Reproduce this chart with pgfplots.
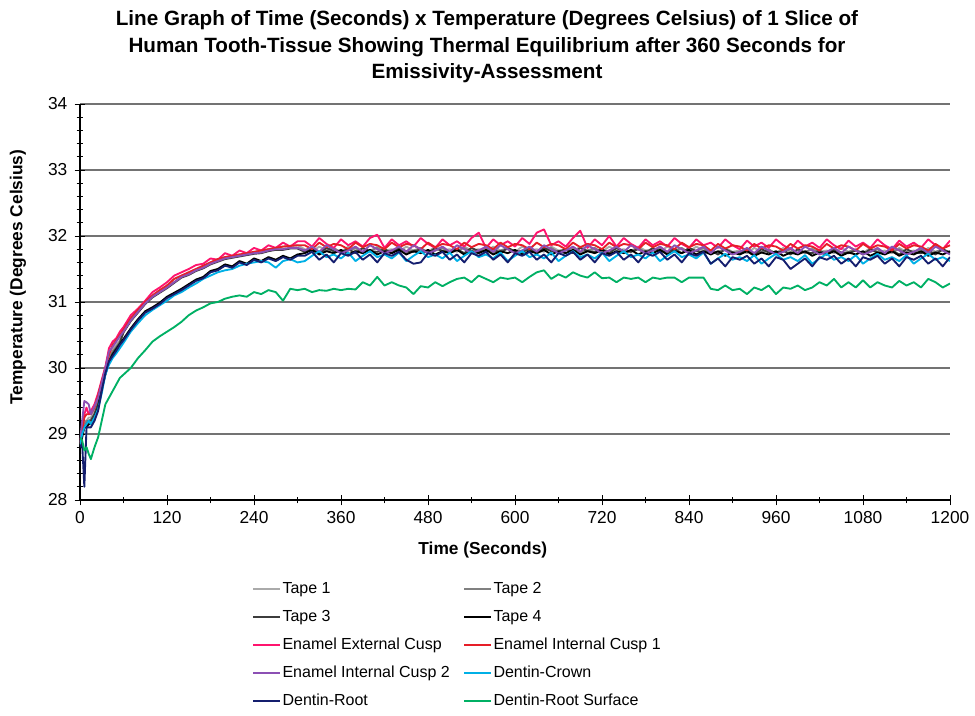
\documentclass[border=0pt]{standalone}
\usepackage{pgfplots}
\usepackage{pgfplotstable}
\pgfplotsset{compat=1.18}
\usepackage{fontspec}
\setmainfont{Liberation Sans}

\definecolor{tapeA}{RGB}{170,170,170}
\definecolor{tapeB}{RGB}{128,128,128}
\definecolor{tapeC}{RGB}{60,60,60}
\definecolor{tapeD}{RGB}{0,0,0}
\definecolor{eec}{RGB}{255,20,110}
\definecolor{eicA}{RGB}{230,30,40}
\definecolor{eicB}{RGB}{140,80,180}
\definecolor{dcrown}{RGB}{0,176,230}
\definecolor{droot}{RGB}{20,30,110}
\definecolor{drs}{RGB}{0,176,100}

\pgfplotstableread{
t T1 T2 T3 T4 EEC EIC1 EIC2 DC DR DRS
0 28.85 28.82 28.83 28.81 28.86 28.85 28.88 28.84 28.80 28.95
3 29.05 29.00 29.00 28.95 29.10 29.05 29.20 29.00 28.85 28.90
6 29.20 29.15 29.10 29.10 29.30 29.25 29.50 29.10 28.20 28.75
9 29.20 29.20 29.15 29.10 29.40 29.30 29.48 29.15 29.10 28.80
12 29.25 29.20 29.20 29.15 29.30 29.30 29.45 29.20 29.10 28.70
15 29.25 29.22 29.20 29.15 29.35 29.30 29.30 29.15 29.10 28.62
20 29.35 29.30 29.30 29.25 29.45 29.40 29.42 29.25 29.20 28.80
25 29.50 29.48 29.45 29.40 29.62 29.58 29.55 29.38 29.35 28.95
30 29.72 29.70 29.70 29.68 29.82 29.80 29.78 29.62 29.65 29.20
35 29.95 29.95 29.92 29.90 30.02 30.00 30.00 29.90 29.92 29.45
40 30.15 30.12 30.10 30.10 30.30 30.20 30.25 30.05 30.10 29.55
45 30.28 30.25 30.22 30.20 30.40 30.35 30.32 30.15 30.18 29.65
50 30.35 30.32 30.30 30.28 30.45 30.42 30.40 30.22 30.26 29.75
55 30.42 30.40 30.38 30.36 30.55 30.50 30.48 30.30 30.35 29.85
60 30.58 30.55 30.54 30.44 30.62 30.58 30.55 30.38 30.42 29.90
70 30.75 30.72 30.71 30.60 30.80 30.75 30.72 30.55 30.58 30.00
80 30.88 30.85 30.84 30.74 30.90 30.88 30.85 30.68 30.72 30.15
90 31.00 30.98 30.97 30.86 31.02 31.00 30.98 30.80 30.84 30.27
100 31.10 31.08 31.07 30.92 31.15 31.10 31.08 30.88 30.90 30.40
110 31.18 31.15 31.14 30.99 31.22 31.18 31.15 30.95 30.97 30.48
120 31.25 31.22 31.21 31.08 31.30 31.25 31.22 31.02 31.06 30.55
130 31.35 31.30 31.29 31.14 31.40 31.35 31.30 31.10 31.12 30.62
140 31.40 31.38 31.37 31.20 31.45 31.40 31.38 31.15 31.18 30.70
150 31.45 31.42 31.41 31.27 31.50 31.45 31.42 31.22 31.25 30.80
160 31.50 31.48 31.47 31.34 31.56 31.50 31.48 31.28 31.32 30.87
170 31.55 31.52 31.51 31.38 31.58 31.55 31.52 31.35 31.36 30.92
180 31.60 31.58 31.57 31.47 31.66 31.60 31.58 31.40 31.45 30.98
190 31.65 31.62 31.61 31.50 31.64 31.65 31.62 31.45 31.48 31.00
200 31.68 31.66 31.65 31.57 31.74 31.68 31.66 31.48 31.55 31.05
210 31.70 31.68 31.67 31.54 31.70 31.70 31.68 31.50 31.52 31.08
220 31.72 31.70 31.69 31.62 31.78 31.72 31.70 31.55 31.60 31.10
230 31.74 31.72 31.71 31.58 31.74 31.74 31.72 31.58 31.56 31.08
240 31.76 31.74 31.73 31.66 31.82 31.76 31.74 31.60 31.64 31.15
250 31.78 31.75 31.74 31.62 31.78 31.78 31.75 31.62 31.60 31.12
260 31.80 31.78 31.77 31.68 31.86 31.80 31.78 31.60 31.66 31.18
270 31.82 31.80 31.79 31.64 31.82 31.82 31.80 31.52 31.62 31.15
280 31.84 31.80 31.79 31.70 31.90 31.84 31.80 31.62 31.68 31.02
290 31.85 31.82 31.81 31.66 31.84 31.85 31.82 31.65 31.64 31.20
300 31.86 31.82 31.81 31.72 31.92 31.86 31.82 31.60 31.70 31.18
310 31.80 31.78 31.76 31.74 31.92 31.86 31.78 31.62 31.70 31.20
320 31.76 31.82 31.80 31.79 31.84 31.80 31.84 31.70 31.76 31.15
330 31.84 31.75 31.74 31.72 31.97 31.90 31.76 31.77 31.64 31.18
340 31.78 31.78 31.82 31.77 31.88 31.83 31.86 31.68 31.72 31.17
350 31.80 31.82 31.77 31.74 31.82 31.88 31.80 31.72 31.60 31.20
360 31.76 31.75 31.76 31.79 31.95 31.86 31.74 31.66 31.74 31.18
370 31.84 31.78 31.80 31.72 31.86 31.80 31.78 31.75 31.70 31.20
380 31.78 31.82 31.74 31.77 31.92 31.90 31.84 31.62 31.76 31.19
390 31.80 31.75 31.82 31.74 31.84 31.83 31.76 31.70 31.64 31.30
400 31.76 31.78 31.77 31.79 31.97 31.88 31.86 31.77 31.72 31.25
410 31.84 31.82 31.76 31.72 32.02 31.86 31.80 31.68 31.60 31.38
420 31.78 31.75 31.80 31.77 31.82 31.80 31.74 31.72 31.74 31.25
430 31.80 31.78 31.74 31.74 31.95 31.90 31.78 31.66 31.70 31.30
440 31.76 31.82 31.82 31.79 31.86 31.83 31.84 31.75 31.76 31.25
450 31.84 31.75 31.77 31.72 31.92 31.88 31.76 31.62 31.64 31.22
460 31.78 31.78 31.76 31.77 31.84 31.86 31.86 31.70 31.58 31.12
470 31.80 31.82 31.80 31.74 31.97 31.80 31.80 31.77 31.60 31.24
480 31.76 31.75 31.74 31.79 31.88 31.90 31.74 31.68 31.74 31.22
490 31.84 31.78 31.82 31.72 31.82 31.83 31.78 31.72 31.70 31.30
500 31.78 31.82 31.77 31.77 31.95 31.88 31.84 31.66 31.76 31.24
510 31.80 31.75 31.76 31.74 31.86 31.86 31.76 31.75 31.64 31.30
520 31.76 31.78 31.80 31.79 31.92 31.80 31.86 31.62 31.72 31.35
530 31.84 31.82 31.74 31.72 31.84 31.90 31.80 31.70 31.60 31.37
540 31.78 31.75 31.82 31.77 31.97 31.83 31.74 31.77 31.74 31.30
550 31.80 31.78 31.77 31.74 32.05 31.88 31.78 31.68 31.70 31.40
560 31.76 31.82 31.76 31.79 31.82 31.86 31.84 31.72 31.76 31.35
570 31.84 31.75 31.80 31.72 31.95 31.80 31.76 31.66 31.64 31.30
580 31.78 31.78 31.74 31.77 31.86 31.90 31.86 31.75 31.72 31.37
590 31.80 31.82 31.82 31.74 31.92 31.83 31.80 31.62 31.60 31.35
600 31.76 31.75 31.77 31.79 31.84 31.88 31.74 31.70 31.74 31.37
610 31.84 31.78 31.76 31.72 31.97 31.86 31.78 31.77 31.70 31.30
620 31.78 31.82 31.80 31.77 31.88 31.80 31.84 31.68 31.76 31.38
630 31.80 31.75 31.74 31.74 32.05 31.90 31.76 31.72 31.64 31.45
640 31.76 31.78 31.82 31.79 32.10 31.83 31.86 31.66 31.72 31.48
650 31.84 31.82 31.77 31.72 31.86 31.88 31.80 31.75 31.60 31.35
660 31.78 31.75 31.76 31.77 31.92 31.86 31.74 31.62 31.74 31.42
670 31.80 31.78 31.80 31.74 31.84 31.80 31.78 31.70 31.70 31.37
680 31.76 31.82 31.74 31.79 31.97 31.90 31.84 31.77 31.76 31.45
690 31.84 31.75 31.82 31.72 32.08 31.83 31.76 31.68 31.64 31.40
700 31.78 31.78 31.77 31.77 31.82 31.88 31.86 31.72 31.72 31.37
710 31.80 31.82 31.76 31.74 31.95 31.86 31.80 31.66 31.60 31.45
720 31.76 31.75 31.80 31.79 31.86 31.80 31.74 31.75 31.74 31.36
730 31.84 31.78 31.74 31.72 32.00 31.90 31.78 31.62 31.70 31.37
740 31.78 31.82 31.82 31.77 31.84 31.83 31.84 31.70 31.76 31.30
750 31.80 31.75 31.77 31.74 31.97 31.88 31.76 31.77 31.64 31.37
760 31.76 31.78 31.76 31.79 31.88 31.86 31.86 31.68 31.72 31.35
770 31.84 31.82 31.80 31.72 31.82 31.80 31.80 31.72 31.60 31.37
780 31.78 31.75 31.74 31.77 31.95 31.90 31.74 31.66 31.74 31.30
790 31.80 31.78 31.82 31.74 31.86 31.83 31.78 31.75 31.70 31.37
800 31.76 31.82 31.77 31.79 31.92 31.88 31.84 31.62 31.76 31.35
810 31.84 31.75 31.76 31.72 31.84 31.86 31.76 31.70 31.64 31.37
820 31.78 31.78 31.80 31.77 31.97 31.80 31.86 31.77 31.72 31.37
830 31.80 31.82 31.74 31.74 31.88 31.90 31.80 31.68 31.60 31.30
840 31.76 31.75 31.82 31.79 31.82 31.83 31.74 31.72 31.74 31.37
850 31.84 31.78 31.77 31.72 31.95 31.88 31.78 31.66 31.70 31.37
860 31.78 31.82 31.76 31.77 31.86 31.86 31.84 31.75 31.76 31.37
870 31.78 31.73 31.78 31.72 31.90 31.78 31.74 31.58 31.58 31.20
880 31.74 31.76 31.72 31.77 31.82 31.88 31.84 31.66 31.66 31.18
890 31.82 31.80 31.80 31.70 31.95 31.81 31.78 31.73 31.54 31.25
900 31.76 31.73 31.75 31.75 31.86 31.86 31.72 31.64 31.68 31.18
910 31.78 31.76 31.74 31.72 31.80 31.84 31.76 31.68 31.64 31.20
920 31.74 31.80 31.78 31.77 31.93 31.78 31.82 31.62 31.70 31.12
930 31.82 31.73 31.72 31.70 31.84 31.88 31.74 31.71 31.58 31.22
940 31.76 31.76 31.80 31.75 31.90 31.81 31.84 31.58 31.66 31.18
950 31.78 31.80 31.75 31.72 31.82 31.86 31.78 31.66 31.54 31.25
960 31.74 31.73 31.74 31.77 31.95 31.84 31.72 31.73 31.68 31.12
970 31.82 31.76 31.78 31.70 31.86 31.78 31.76 31.64 31.64 31.22
980 31.76 31.80 31.72 31.75 31.80 31.88 31.82 31.68 31.50 31.20
990 31.78 31.73 31.80 31.72 31.93 31.81 31.74 31.62 31.58 31.25
1000 31.74 31.76 31.75 31.77 31.84 31.86 31.84 31.71 31.66 31.18
1010 31.82 31.80 31.74 31.70 31.90 31.84 31.78 31.58 31.54 31.22
1020 31.76 31.73 31.78 31.75 31.82 31.78 31.72 31.66 31.68 31.30
1030 31.78 31.76 31.72 31.72 31.95 31.88 31.76 31.73 31.64 31.25
1040 31.74 31.80 31.80 31.77 31.86 31.81 31.82 31.64 31.70 31.35
1050 31.82 31.73 31.75 31.70 31.80 31.86 31.74 31.68 31.58 31.22
1060 31.76 31.76 31.74 31.75 31.93 31.84 31.84 31.62 31.66 31.30
1070 31.78 31.80 31.78 31.72 31.84 31.78 31.78 31.71 31.54 31.22
1080 31.74 31.73 31.72 31.77 31.90 31.88 31.72 31.58 31.68 31.33
1090 31.82 31.76 31.80 31.70 31.82 31.81 31.76 31.66 31.64 31.22
1100 31.76 31.80 31.75 31.75 31.95 31.86 31.82 31.73 31.70 31.30
1110 31.78 31.73 31.74 31.72 31.86 31.84 31.74 31.64 31.58 31.25
1120 31.74 31.76 31.78 31.77 31.80 31.78 31.84 31.68 31.66 31.22
1130 31.82 31.80 31.72 31.70 31.93 31.88 31.78 31.62 31.54 31.32
1140 31.76 31.73 31.80 31.75 31.84 31.81 31.72 31.71 31.68 31.25
1150 31.78 31.76 31.75 31.72 31.90 31.86 31.76 31.58 31.64 31.30
1160 31.74 31.80 31.74 31.77 31.82 31.84 31.82 31.66 31.70 31.22
1170 31.82 31.73 31.78 31.70 31.95 31.78 31.74 31.73 31.58 31.35
1180 31.76 31.76 31.72 31.75 31.86 31.88 31.84 31.64 31.66 31.30
1190 31.78 31.80 31.80 31.72 31.80 31.81 31.78 31.68 31.54 31.22
1200 31.74 31.73 31.75 31.77 31.93 31.86 31.72 31.62 31.68 31.28
}\data

\begin{document}
\begin{tikzpicture}
\path (-60pt,-161.25pt) rectangle (671.25pt,375pt);
\begin{axis}[
  scale only axis,
  width=652.5pt, height=297pt,
  xmin=0, xmax=1200, ymin=28, ymax=34,
  xtick={0,120,...,1200},
  minor x tick num=1,
  ytick={28,29,...,34},
  minor y tick num=4,
  axis lines=left,
  axis line style={-, black, line width=0.8pt},
  tick align=center,
  major tick length=8pt,
  minor tick length=5pt,
  tick style={black, line width=0.7pt},
  ymajorgrids,
  major grid style={black!55, line width=0.9pt},
  /pgf/number format/assume math mode=true,
  /pgf/number format/1000 sep={},
  ticklabel style={font=\fontsize{13}{15}\selectfont},
  xticklabel style={yshift=-1pt},
  yticklabel style={xshift=-2pt},
  xlabel={Time (Seconds)},
  ylabel={Temperature (Degrees Celsius)},
  label style={font=\fontsize{13}{15}\selectfont\bfseries},
  xlabel style={at={(axis description cs:0.463,0)}, anchor=center, yshift=-37.5pt},
  ylabel style={at={(axis description cs:-0.0713,0.563)}, anchor=center},
  legend columns=2,
  legend cell align=left,
  legend image code/.code={\draw[#1, line width=1.8pt] (0pt,0pt) -- (20pt,0pt);},
  legend style={
    at={(axis description cs:0.193,-0.194)}, anchor=north west,
    draw=none, fill=none,
    font=\fontsize{12}{14}\selectfont,
    row sep=7.5pt,
    nodes={inner sep=1pt, text height=9pt, text depth=2.5pt},
    /tikz/every even column/.append style={column sep=9pt},
  },
  every axis plot/.append style={line width=1.4pt, mark=none, line join=round},
  clip=true,
]
\addplot[color=tapeA] table[x=t,y=T1] {\data};
\addlegendentry{Tape 1}
\addplot[color=tapeB] table[x=t,y=T2] {\data};
\addlegendentry{Tape 2}
\addplot[color=tapeC] table[x=t,y=T3] {\data};
\addlegendentry{Tape 3}
\addplot[color=tapeD] table[x=t,y=T4] {\data};
\addlegendentry{Tape 4}
\addplot[color=eec] table[x=t,y=EEC] {\data};
\addlegendentry{Enamel External Cusp}
\addplot[color=eicA] table[x=t,y=EIC1] {\data};
\addlegendentry{Enamel Internal Cusp 1}
\addplot[color=eicB] table[x=t,y=EIC2] {\data};
\addlegendentry{Enamel Internal Cusp 2}
\addplot[color=dcrown] table[x=t,y=DC] {\data};
\addlegendentry{Dentin-Crown}
\addplot[color=droot] table[x=t,y=DR] {\data};
\addlegendentry{Dentin-Root}
\addplot[color=drs] table[x=t,y=DRS] {\data};
\addlegendentry{Dentin-Root Surface}
\end{axis}
\node[align=center, font=\fontsize{15.5}{19.9}\selectfont\bfseries] at (305.25pt,339.75pt)
  {Line Graph of Time (Seconds) x Temperature (Degrees Celsius) of 1 Slice of\\
   Human Tooth-Tissue Showing Thermal Equilibrium after 360 Seconds for\\
   Emissivity-Assessment};
\end{tikzpicture}
\end{document}
